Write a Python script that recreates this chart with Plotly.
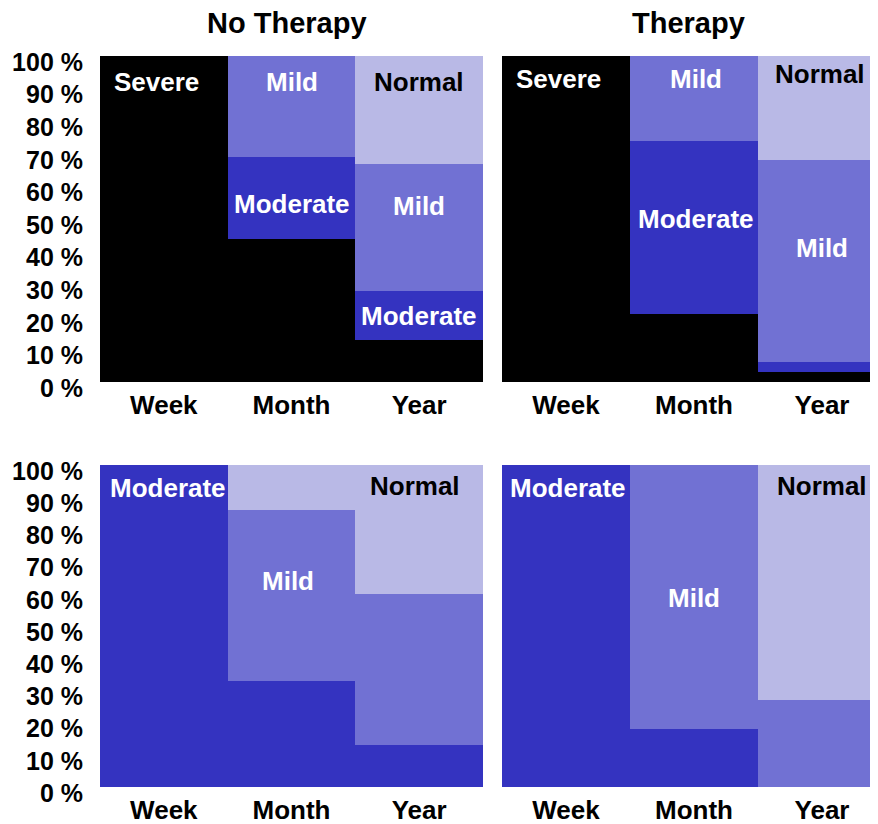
import plotly.graph_objects as go

categories = ["Week", "Month", "Year"]

# Top row: starting state "Severe"
nt_severe = [100, 44, 13]
nt_moderate = [0, 25, 15]
nt_mild = [0, 31, 39]
nt_normal = [0, 0, 33]

t_severe = [100, 21, 3]
t_moderate = [0, 53, 3]
t_mild = [0, 26, 62]
t_normal = [0, 0, 32]

# Bottom row: starting state "Moderate"
nt2_moderate = [100, 33, 13]
nt2_mild = [0, 53, 47]
nt2_normal = [0, 14, 40]

t2_moderate = [100, 18, 0]
t2_mild = [0, 82, 27]
t2_normal = [0, 0, 73]

column_titles = ["No Therapy", "Therapy"]
y_ticks = [0, 10, 20, 30, 40, 50, 60, 70, 80, 90, 100]
y_ticktext = [f"{v} %" for v in y_ticks]

COL = {"Severe": "#000000", "Moderate": "#3433C0", "Mild": "#7171D3", "Normal": "#B9B9E6"}
FONT = "Liberation Sans, Arial, sans-serif"

W, H = 878, 824
OFF = 8  # page body margin
fig = go.Figure()

panels = [
    ("x", "y", [("Severe", nt_severe), ("Moderate", nt_moderate), ("Mild", nt_mild), ("Normal", nt_normal)]),
    ("x2", "y2", [("Severe", t_severe), ("Moderate", t_moderate), ("Mild", t_mild), ("Normal", t_normal)]),
    ("x3", "y3", [("Moderate", nt2_moderate), ("Mild", nt2_mild), ("Normal", nt2_normal)]),
    ("x4", "y4", [("Moderate", t2_moderate), ("Mild", t2_mild), ("Normal", t2_normal)]),
]
for xa, ya, series in panels:
    for name, vals in series:
        fig.add_trace(go.Bar(x=categories, y=vals, name=name, marker_color=COL[name],
                             marker_line_width=0, xaxis=xa, yaxis=ya, showlegend=False,
                             hoverinfo="x+y+name"))

def px_x(p):
    return (p - OFF) / W

def px_y(p):
    return 1 - (p - OFF) / H

left_dom = [px_x(100), px_x(483)]
right_dom = [px_x(502), 1.0]
top_dom = [px_y(382), px_y(56)]
bot_dom = [px_y(787), px_y(465)]

xcommon = dict(showgrid=False, zeroline=False, showline=False, ticks="", automargin=False,
               tickfont=dict(family=FONT, size=26, color="black", weight="bold"),
               ticklabelstandoff=5, fixedrange=True, range=[-0.5, 2.5])
ycommon = dict(range=[0, 100], showgrid=False, zeroline=False, showline=False, ticks="",
               automargin=False, tickvals=y_ticks, ticktext=y_ticktext,
               tickfont=dict(family=FONT, size=25, color="black", weight="bold"),
               ticklabelstandoff=16, ticklabelshift=6, fixedrange=True)

fig.update_layout(
    width=W, height=H,
    margin=dict(l=0, r=0, t=0, b=0, autoexpand=False),
    paper_bgcolor="white", plot_bgcolor="white",
    barmode="stack", bargap=0,
    xaxis=dict(domain=left_dom, anchor="y", **xcommon),
    yaxis=dict(domain=top_dom, anchor="x", **ycommon),
    xaxis2=dict(domain=right_dom, anchor="y2", **xcommon),
    yaxis2=dict(domain=top_dom, anchor="x2", showticklabels=False, **ycommon),
    xaxis3=dict(domain=left_dom, anchor="y3", **xcommon),
    yaxis3=dict(domain=bot_dom, anchor="x3", **ycommon),
    xaxis4=dict(domain=right_dom, anchor="y4", **xcommon),
    yaxis4=dict(domain=bot_dom, anchor="x4", showticklabels=False, **ycommon),
)

# in-bar labels: (axis, category, y value, text, x shift)
labels = [
    ("", "Week", 92, "Severe", -7), ("", "Month", 92, "Mild", 0), ("", "Year", 92, "Normal", 0),
    ("", "Month", 54.5, "Moderate", 0), ("", "Year", 54, "Mild", 0), ("", "Year", 20.3, "Moderate", 0),
    ("2", "Week", 93, "Severe", -8), ("2", "Month", 93, "Mild", 2), ("2", "Year", 94.5, "Normal", -2),
    ("2", "Month", 50, "Moderate", 2), ("2", "Year", 41, "Mild", 0),
    ("3", "Week", 92.8, "Moderate", 4), ("3", "Month", 64, "Mild", -4), ("3", "Year", 93.5, "Normal", -4),
    ("4", "Week", 93, "Moderate", 2), ("4", "Month", 58.6, "Mild", 0), ("4", "Year", 93.4, "Normal", 0),
]
for ax, cat, yv, txt, xs in labels:
    fig.add_annotation(x=cat, y=yv, xref="x" + ax, yref="y" + ax, text=txt, showarrow=False,
                       xshift=xs, font=dict(family=FONT, size=26, weight="bold",
                                            color="black" if txt == "Normal" else "white"))

for title, xc in zip(column_titles, [287, 688]):
    fig.add_annotation(x=px_x(xc), y=px_y(23), xref="paper", yref="paper", text=title,
                       showarrow=False, xanchor="center", yanchor="middle",
                       font=dict(family=FONT, size=29, weight="bold", color="black"))

fig.write_html("out.html")
